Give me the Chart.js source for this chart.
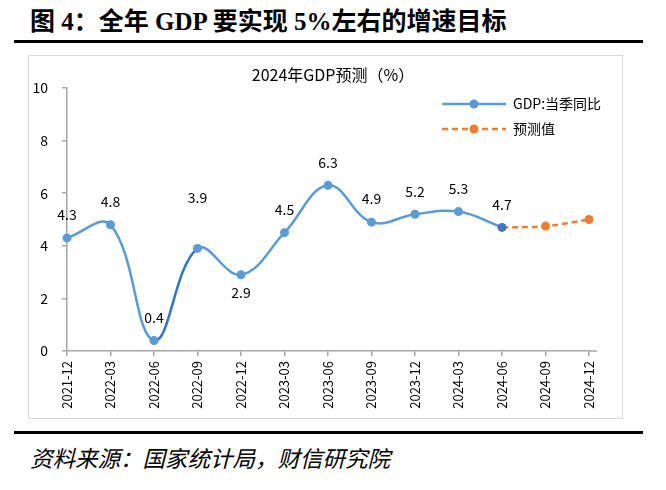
<!DOCTYPE html>
<html>
<head>
<meta charset="utf-8">
<script src="https://cdn.jsdelivr.net/npm/chart.js@4.4.1/dist/chart.umd.min.js"></script>
<style>
  html, body { margin: 0; padding: 0; background: #fff; }
  body { width: 666px; height: 490px; position: relative; overflow: hidden; }
  #title { position: absolute; left: 30px; top: 1px; font: bold 25px "Liberation Serif", "Noto Sans CJK SC", serif; color: #000; white-space: nowrap; }
  .rule { position: absolute; left: 14px; width: 629px; height: 3px; background: #000; }
  #box { position: absolute; left: 28px; top: 55px; width: 595px; height: 364px; box-sizing: border-box; border: 1.5px solid #d9d9d9; }
  #c { position: absolute; left: 28px; top: 55px; }
  #source { position: absolute; left: 30px; top: 441px; font: italic 22.5px "Noto Sans CJK SC", sans-serif; color: #000; white-space: nowrap; }
</style>
</head>
<body>
<div id="title">图 4：全年 GDP 要实现 5%左右的增速目标</div>
<div class="rule" style="top:40px"></div>
<div id="box"></div>
<canvas id="c" width="595" height="364"></canvas>
<div class="rule" style="top:431px"></div>
<div id="source">资料来源：国家统计局，财信研究院</div>
<script>
const categories = ['2021-12','2022-03','2022-06','2022-09','2022-12','2023-03','2023-06','2023-09','2023-12','2024-03','2024-06','2024-09','2024-12'];
const gdpYoY = [4.3, 4.8, 0.4, 3.9, 2.9, 4.5, 6.3, 4.9, 5.2, 5.3, 4.7, null, null];
const forecast = [null, null, null, null, null, null, null, null, null, null, 4.7, 4.75, 5.0];
const yTicks = [0, 2, 4, 6, 8, 10];
const seriesNames = ['GDP:当季同比', '预测值'];
const chartTitle = '2024年GDP预测（%）';

const FONT = '"Noto Sans CJK SC", "Open Sans", sans-serif';
const BLUE = '#5B9BD5', DARKBLUE = '#2F75C2', LASTBLUE = '#4472C4', ORANGE = '#ED7D31', AXIS = '#a6a6a6';

// label placement: default above; special cases
const labelShift = {4: 18, 3: -51};

const decorPlugin = {
  id: 'decor',
  afterDatasetsDraw(chart) {
    const ctx = chart.ctx;
    const meta = chart.getDatasetMeta(0);
    ctx.save();
    ctx.font = '14px ' + FONT;
    ctx.fillStyle = '#000';
    ctx.textAlign = 'center';
    ctx.textBaseline = 'middle';
    meta.data.forEach((pt, i) => {
      const v = gdpYoY[i];
      if (v === null || v === undefined) return;
      const dy = (i in labelShift) ? labelShift[i] : -23;
      ctx.fillText(v.toFixed(1), pt.x, pt.y + dy);
    });
    ctx.restore();
  },
  afterDraw(chart) {
    const ctx = chart.ctx;
    const ca = chart.chartArea;
    ctx.save();
    const yb = chart.scales.y.getPixelForValue(0);
    ctx.strokeStyle = AXIS; ctx.lineWidth = 1.5;
    ctx.beginPath(); ctx.moveTo(ca.right, yb); ctx.lineTo(ca.right + 8, yb); ctx.stroke();
    // title
    ctx.font = '16px ' + FONT;
    ctx.fillStyle = '#000';
    ctx.textAlign = 'center';
    ctx.textBaseline = 'middle';
    ctx.fillText(chartTitle, 305, 20);
    // legend
    const items = [
      {name: seriesNames[0], color: BLUE, dash: []},
      {name: seriesNames[1], color: ORANGE, dash: [6, 4]}
    ];
    items.forEach((it, k) => {
      const y = 49 + k * 25;
      ctx.strokeStyle = it.color; ctx.lineWidth = 2.5; ctx.setLineDash(it.dash);
      ctx.beginPath(); ctx.moveTo(414, y); ctx.lineTo(478, y); ctx.stroke();
      ctx.setLineDash([]);
      ctx.fillStyle = it.color;
      ctx.beginPath(); ctx.arc(446, y, 4.5, 0, Math.PI * 2); ctx.fill();
      ctx.fillStyle = '#000'; ctx.textAlign = 'left'; ctx.font = '14px ' + FONT;
      ctx.fillText(it.name, 485, y);
    });
    ctx.restore();
  }
};

new Chart(document.getElementById('c'), {
  type: 'line',
  data: {
    labels: categories,
    datasets: [
      {
        label: seriesNames[0],
        data: gdpYoY,
        borderColor: BLUE,
        backgroundColor: BLUE,
        borderWidth: 2.5,
        pointRadius: 4.5,
        pointBorderWidth: 0,
        pointBackgroundColor: gdpYoY.map((v, i) => i === 10 ? LASTBLUE : BLUE),
        tension: 0.4,
        clip: false,
        segment: { borderColor: c => c.p0DataIndex === 2 ? DARKBLUE : undefined }
      },
      {
        label: seriesNames[1],
        data: forecast,
        borderColor: ORANGE,
        backgroundColor: ORANGE,
        borderWidth: 2.5,
        borderDash: [6, 4],
        pointRadius: forecast.map((v, i) => i === 10 ? 0 : 4.5),
        pointBorderWidth: 0,
        tension: 0.4,
        clip: false
      }
    ]
  },
  options: {
    responsive: false,
    animation: false,
    layout: { padding: { top: 33, right: 34, left: 0, bottom: 0 } },
    plugins: { legend: { display: false }, tooltip: { enabled: false }, title: { display: false } },
    scales: {
      x: {
        type: 'category',
        offset: false,
        grid: { display: true, drawOnChartArea: false, drawTicks: true, tickLength: 5, color: AXIS, lineWidth: 1.5 },
        border: { display: true, color: AXIS, width: 1.5 },
        ticks: { minRotation: 90, maxRotation: 90, autoSkip: false, padding: 5, color: '#000', font: { size: 13, family: FONT } },
        afterFit: s => { s.height = 68; }
      },
      y: {
        min: 0, max: 10,
        afterBuildTicks: s => { s.ticks = yTicks.map(v => ({ value: v })); },
        grid: { display: true, drawOnChartArea: false, drawTicks: true, tickLength: 5, color: AXIS, lineWidth: 1.5 },
        border: { display: true, color: AXIS, width: 1.5 },
        ticks: { padding: 14, color: '#000', font: { size: 14, family: FONT } },
        afterFit: s => { s.width = 39; }
      }
    }
  },
  plugins: [decorPlugin]
});
</script>
</body>
</html>
